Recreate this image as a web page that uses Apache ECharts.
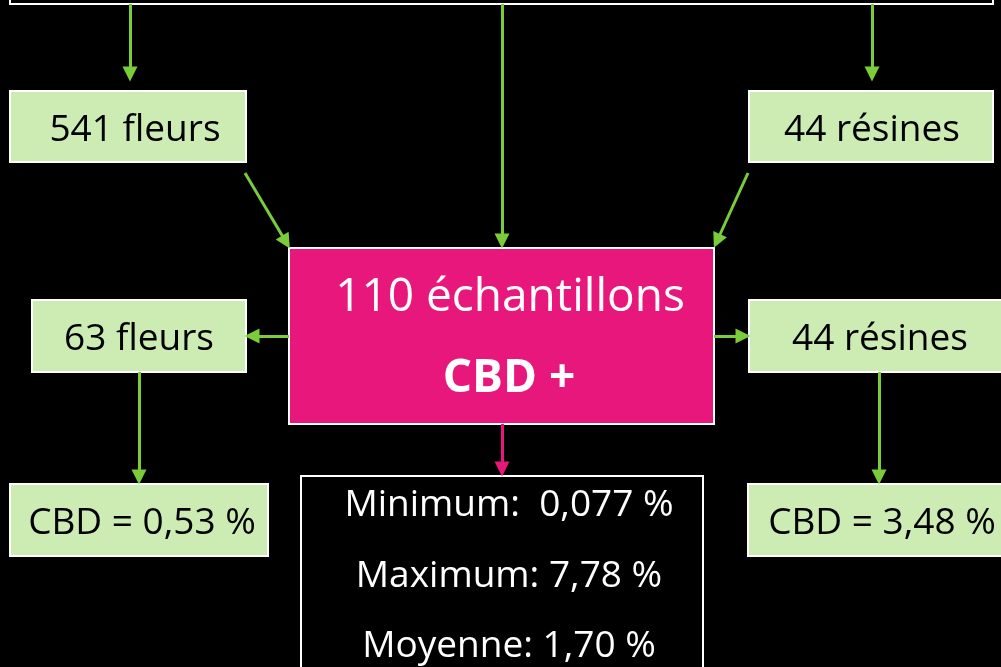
<!DOCTYPE html>
<html>
<head>
<meta charset="utf-8">
<script src="https://cdn.jsdelivr.net/npm/echarts@6/dist/echarts.min.js"></script>
<style>
  html, body { margin: 0; padding: 0; background: #000; }
  #main { width: 1001px; height: 667px; }
</style>
</head>
<body>
<div id="main"></div>
<script>
// données
var sampleTypes = ['fleurs', 'résines']
var receivedCounts = [541, 44]
var positiveTotal = 110
var positiveCounts = [63, 44]
var meanCbd = [0.53, 3.48]
var statNames = ['Minimum', 'Maximum', 'Moyenne']
var statValues = [0.077, 7.78, 1.70]
var statDigits = [3, 2, 2]

function pct (v, d) {
  return v.toFixed(d).replace('.', ',') + ' %'
}

var GREEN = '#7acc3a'
var PINK = '#e8177b'
var LIGHT = '#cdecb4'
var FONT = '"Open Sans", "Noto Sans", sans-serif'

// mise en page (coordonnées écran, axes cachés 0..1001 / 0..667)
var boxes = [
  { r: [10, -10, 993, 4], fill: '#000', stroke: '#fff' },
  { r: [10, 91, 246, 162], fill: LIGHT, stroke: '#fff' },
  { r: [749, 91, 993, 162], fill: LIGHT, stroke: '#fff' },
  { r: [289, 248, 714, 424], fill: PINK, stroke: '#fff' },
  { r: [32, 300, 246, 372], fill: LIGHT, stroke: '#fff' },
  { r: [749, 300, 1012, 372], fill: LIGHT, stroke: '#fff' },
  { r: [10, 484, 268, 556], fill: LIGHT, stroke: '#fff' },
  { r: [748, 484, 1012, 556], fill: LIGHT, stroke: '#fff' },
  { r: [301, 476, 703, 690], fill: '#000', stroke: '#fff' }
]

var labels = [
  { p: [135, 130], t: receivedCounts[0] + ' ' + sampleTypes[0], c: '#000', s: 37 },
  { p: [872, 130], t: receivedCounts[1] + ' ' + sampleTypes[1], c: '#000', s: 37 },
  { p: [510, 298], t: positiveTotal + ' échantillons', c: '#fff', s: 46 },
  { p: [509, 379], t: 'CBD +', c: '#fff', s: 46, w: 'bold' },
  { p: [139, 339], t: positiveCounts[0] + ' ' + sampleTypes[0], c: '#000', s: 37 },
  { p: [880, 339], t: positiveCounts[1] + ' ' + sampleTypes[1], c: '#000', s: 37 },
  { p: [142, 523], t: 'CBD = ' + pct(meanCbd[0], 2), c: '#000', s: 37 },
  { p: [882, 523], t: 'CBD = ' + pct(meanCbd[1], 2), c: '#000', s: 37 }
]
statNames.forEach(function (n, i) {
  labels.push({ p: [509, [505, 576, 646][i]], t: n + ':' + (i === 0 ? '  ' : ' ') + pct(statValues[i], statDigits[i]), c: '#fff', s: 37 })
})

var arrows = [
  { c: [[130, 4], [130, 74]], col: GREEN },
  { c: [[502, 4], [502, 241]], col: GREEN },
  { c: [[872, 4], [872, 74]], col: GREEN },
  { c: [[245, 173], [286, 242]], col: GREEN },
  { c: [[748, 173], [717, 241]], col: GREEN },
  { c: [[289, 336], [252, 336]], col: GREEN },
  { c: [[714, 336], [743, 336]], col: GREEN },
  { c: [[139, 372], [139, 477]], col: GREEN },
  { c: [[879, 372], [879, 477]], col: GREEN },
  { c: [[502, 424], [502, 469]], col: PINK }
]

var myChart = echarts.init(document.getElementById('main'))

var option = {
  backgroundColor: '#000',
  animation: false,
  grid: { left: 0, right: 0, top: 0, bottom: 0 },
  xAxis: { type: 'value', min: 0, max: 1001, show: false },
  yAxis: { type: 'value', min: 0, max: 667, inverse: true, show: false },
  series: [
    {
      type: 'custom',
      coordinateSystem: 'cartesian2d',
      clip: false,
      data: boxes.map(function (b, i) { return [b.r[0], b.r[1], b.r[2], b.r[3], i] }),
      renderItem: function (params, api) {
        var b = boxes[api.value(4)]
        var p0 = api.coord([api.value(0), api.value(1)])
        var p1 = api.coord([api.value(2), api.value(3)])
        return {
          type: 'rect',
          shape: { x: p0[0], y: p0[1], width: p1[0] - p0[0], height: p1[1] - p0[1] },
          style: { fill: b.fill, stroke: b.stroke, lineWidth: 2 }
        }
      },
      z: 1
    },
    {
      type: 'lines',
      coordinateSystem: 'cartesian2d',
      symbol: ['none', 'triangle'],
      symbolSize: 15,
      data: arrows.map(function (a) {
        return { coords: a.c, lineStyle: { color: a.col } }
      }),
      lineStyle: { width: 3, opacity: 1 },
      z: 2
    },
    {
      type: 'custom',
      coordinateSystem: 'cartesian2d',
      clip: false,
      data: labels.map(function (l, i) { return [l.p[0], l.p[1], i] }),
      renderItem: function (params, api) {
        var l = labels[api.value(2)]
        var p = api.coord([api.value(0), api.value(1)])
        return {
          type: 'text',
          x: p[0],
          y: p[1],
          style: {
            text: l.t,
            fill: l.c,
            font: (l.w || 'normal') + ' ' + l.s + 'px ' + FONT,
            align: 'center',
            verticalAlign: 'middle'
          }
        }
      },
      z: 3
    }
  ]
}
myChart.setOption(option, true)
window.addEventListener('resize', function () {
  myChart.resize()
})
</script>
</body>
</html>
